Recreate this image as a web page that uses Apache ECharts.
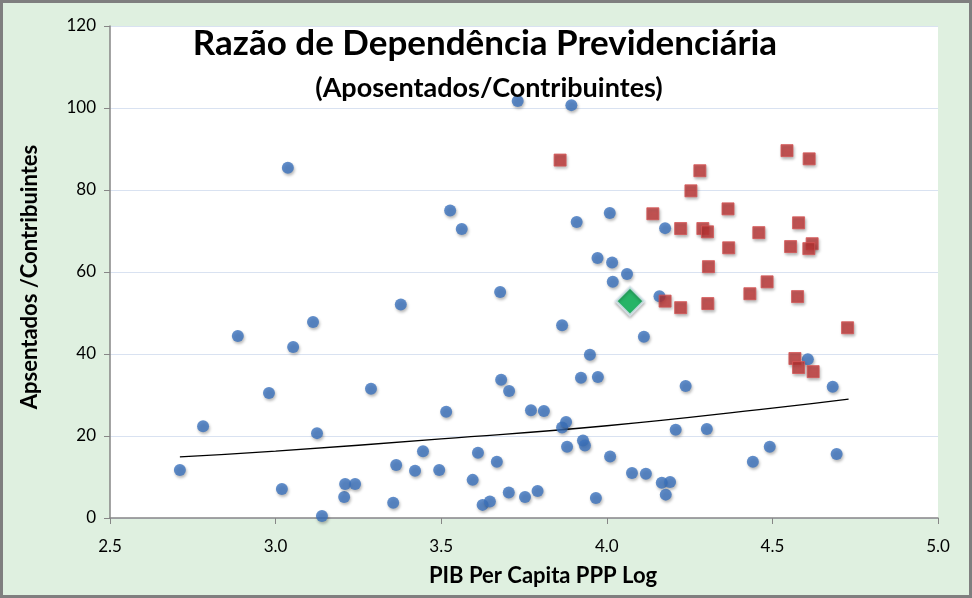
<!DOCTYPE html>
<html>
<head>
<meta charset="utf-8">
<script src="https://cdn.jsdelivr.net/npm/echarts@6/dist/echarts.min.js"></script>
<style>
html,body{margin:0;padding:0;background:#dff0e0;overflow:hidden;}
#chart{width:972px;height:598px;}
</style>
</head>
<body>
<div id="chart"></div>
<script>
var titleText = 'Razão de Dependência Previdenciária';
var subtitleText = '(Aposentados/Contribuintes)';
var xAxisName = 'PIB Per Capita PPP Log';
var yAxisName = 'Apsentados /Contribuintes';

var bluePoints = [
  [2.711,11.7],[2.781,22.4],[2.886,44.4],[2.980,30.5],[3.019,7.1],[3.037,85.4],
  [3.053,41.7],[3.113,47.8],[3.125,20.7],[3.140,0.5],[3.207,5.1],[3.210,8.3],
  [3.240,8.3],[3.288,31.5],[3.355,3.7],[3.364,12.9],[3.378,52.1],[3.421,11.5],
  [3.445,16.3],[3.494,11.7],[3.515,25.9],[3.527,75.0],[3.562,70.5],[3.595,9.3],
  [3.611,15.9],[3.625,3.2],[3.647,4.0],[3.668,13.7],[3.678,55.1],[3.681,33.7],
  [3.705,31.0],[3.704,6.2],[3.731,101.7],[3.753,5.1],[3.771,26.3],[3.791,6.6],
  [3.810,26.1],[3.865,47.0],[3.865,22.1],[3.877,23.4],[3.880,17.4],[3.893,100.7],
  [3.909,72.2],[3.922,34.2],[3.928,18.9],[3.934,17.7],[3.949,39.8],[3.967,4.9],
  [3.972,63.4],[3.973,34.4],[4.009,74.4],[4.010,15.0],[4.016,62.3],[4.018,57.6],
  [4.061,59.5],[4.076,11.0],[4.118,10.8],[4.112,44.2],[4.159,54.1],[4.166,8.6],
  [4.176,70.7],[4.178,5.7],[4.191,8.8],[4.208,21.5],[4.238,32.2],[4.302,21.7],
  [4.441,13.7],[4.492,17.4],[4.607,38.7],[4.682,32.0],[4.694,15.6]
];

var redPoints = [
  [3.859,87.3],[4.544,89.6],[4.611,87.6],[4.281,84.7],[4.254,79.8],[4.366,75.4],
  [4.139,74.2],[4.579,72.0],[4.223,70.6],[4.290,70.6],[4.304,69.8],[4.459,69.6],
  [4.368,65.9],[4.555,66.2],[4.620,66.9],[4.610,65.7],[4.307,61.3],[4.484,57.6],
  [4.432,54.7],[4.576,54.0],[4.176,52.9],[4.223,51.3],[4.305,52.3],[4.727,46.4],
  [4.568,38.9],[4.579,36.7],[4.623,35.7]
];

var greenPoints = [[4.070,52.9]];

var trendPoints = [[2.711,14.9],[3.0,16.3],[3.5,19.3],[4.0,22.5],[4.5,26.8],[4.73,29.0]];

var xTicks = {min:2.5, max:5.0, interval:0.5};
var yTicks = {min:0, max:120, interval:20};

var FONT = 'Lato';
var chart = echarts.init(document.getElementById('chart'));
chart.setOption({
  backgroundColor: '#dff0e0',
  animation: false,
  textStyle: {fontFamily: FONT},
  graphic: [
    {type:'rect', shape:{x:1.5,y:1.5,width:969,height:595}, style:{fill:'none', stroke:'#7f7f7f', lineWidth:3}, z:100},
    {type:'text', x:485, y:44, z:50, style:{text:titleText, fontFamily:FONT, fontWeight:'bold', fontSize:35, fill:'#000', textAlign:'center', textVerticalAlign:'middle'}},
    {type:'text', x:489, y:88, z:50, style:{text:subtitleText, fontFamily:FONT, fontWeight:'bold', fontSize:27, fill:'#000', textAlign:'center', textVerticalAlign:'middle'}},
    {type:'text', x:543, y:576, z:50, style:{text:xAxisName, fontFamily:FONT, fontWeight:'bold', fontSize:22, fill:'#000', textAlign:'center', textVerticalAlign:'middle'}},
    {type:'text', x:30, y:277, rotation:Math.PI/2, z:50, style:{text:yAxisName, fontFamily:FONT, fontWeight:'bold', fontSize:22, fill:'#000', textAlign:'center', textVerticalAlign:'middle'}}
  ],
  grid: {left:110, top:26, right:34, bottom:80, show:true, backgroundColor:'#ffffff', borderWidth:0},
  xAxis: {
    type:'value', min:xTicks.min, max:xTicks.max, interval:xTicks.interval,
    axisLine:{show:true, lineStyle:{color:'#868686', width:1.5}},
    axisTick:{show:true, length:6, inside:false, lineStyle:{color:'#868686'}},
    axisLabel:{fontFamily:FONT, fontSize:17, color:'#000', margin:20, formatter:function(v){return v.toFixed(1);}},
    splitLine:{show:false}
  },
  yAxis: {
    type:'value', min:yTicks.min, max:yTicks.max, interval:yTicks.interval,
    axisLine:{show:true, lineStyle:{color:'#868686', width:1.5}},
    axisTick:{show:true, length:6, inside:false, lineStyle:{color:'#868686'}},
    axisLabel:{fontFamily:FONT, fontSize:17, color:'#000', margin:14},
    splitLine:{show:true, lineStyle:{color:'#d9e2f1', width:1}}
  },
  series: [
    {type:'line', data:trendPoints, smooth:true, symbol:'none', z:1,
     lineStyle:{color:'#000', width:1.3}},
    {type:'scatter', data:bluePoints, symbol:'circle', symbolSize:12, z:3,
     itemStyle:{color:'#3b72bd', shadowBlur:3, shadowColor:'rgba(0,0,0,0.35)', shadowOffsetY:2, shadowOffsetX:1}},
    {type:'scatter', data:redPoints, symbol:'rect', symbolSize:12, z:4,
     itemStyle:{color:'#bf3636', borderColor:'#d65656', borderWidth:1, shadowBlur:3, shadowColor:'rgba(0,0,0,0.35)', shadowOffsetY:2, shadowOffsetX:1}},
    {type:'scatter', data:greenPoints, symbol:'diamond', symbolSize:[28,28], z:5,
     itemStyle:{color:'#00b050', borderColor:'#dce6f0', borderWidth:2.5, shadowBlur:3, shadowColor:'rgba(0,0,0,0.3)', shadowOffsetY:2}}
  ]
});
</script>
</body>
</html>
